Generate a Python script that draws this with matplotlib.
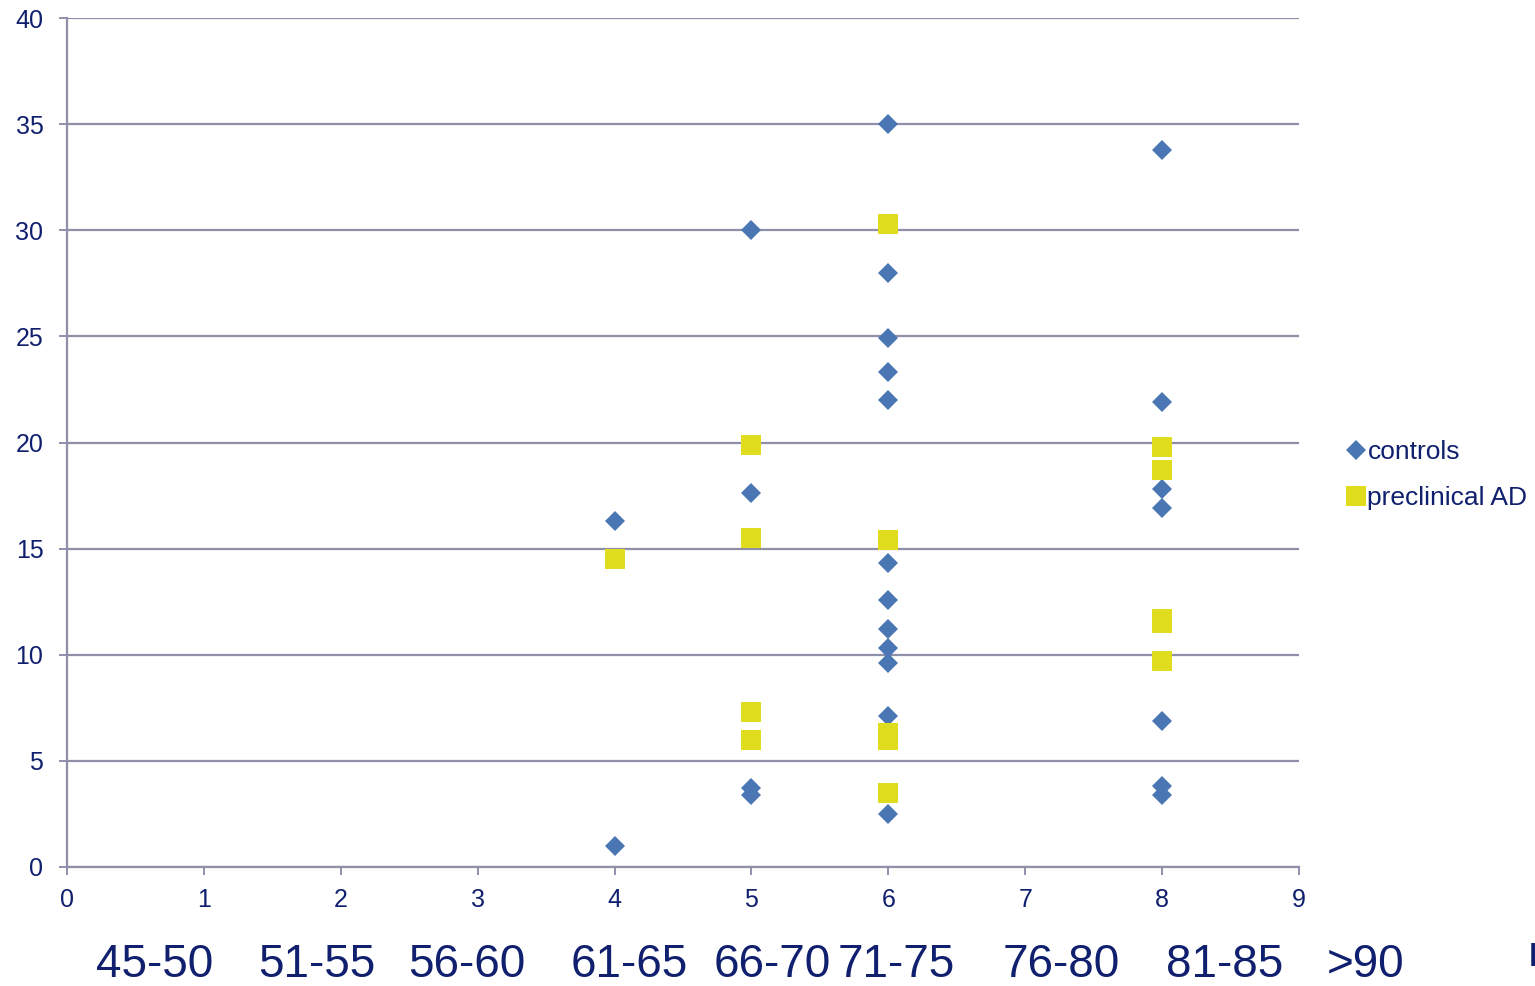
import matplotlib
matplotlib.use('Agg')
import matplotlib.pyplot as plt

# Valeurs par groupe d'âge (index 0..9 sur l'axe x)
controls_x = [4, 4,
              5, 5, 5, 5,
              6, 6, 6, 6, 6, 6, 6, 6, 6, 6, 6, 6,
              8, 8, 8, 8, 8, 8, 8]
controls_y = [16.3, 1.0,
              30.0, 17.6, 3.7, 3.4,
              35.0, 28.0, 24.9, 23.3, 22.0, 14.3, 12.6, 11.2, 10.3, 9.6, 7.1, 2.5,
              33.8, 21.9, 17.8, 16.9, 6.9, 3.8, 3.4]

preclin_x = [4,
             5, 5, 5, 5,
             6, 6, 6, 6, 6,
             8, 8, 8, 8, 8]
preclin_y = [14.5,
             19.9, 15.5, 7.3, 6.0,
             30.3, 15.4, 6.3, 6.0, 3.5,
             19.8, 18.7, 11.7, 11.5, 9.7]

age_labels = ['45-50', '51-55', '56-60', '61-65', '66-70', '71-75', '76-80', '81-85', '>90']
age_label_px = [96, 258, 408, 571, 714, 838, 1003, 1166, 1327]

W, H = 1535, 986
navy = '#10206E'
grid_col = '#8F8FAA'
blue = '#4A77B4'
yellow = '#E0DC1E'

plt.rcParams['font.family'] = ['Liberation Sans', 'DejaVu Sans']

fig = plt.figure(figsize=(W / 100, H / 100), dpi=100)
ax = fig.add_axes([67 / W, (H - 867) / H, (1299 - 67) / W, (867 - 18) / H])

ax.plot(controls_x, controls_y, linestyle='none', marker='D', markersize=10.2,
        color=blue, markeredgewidth=0, label='controls', zorder=3, clip_on=False)
ax.plot(preclin_x, preclin_y, linestyle='none', marker='s', markersize=14.4,
        color=yellow, markeredgewidth=0, label='preclinical AD', zorder=3, clip_on=False)

ax.set_xlim(0, 9)
ax.set_ylim(0, 40)
ax.set_xticks(range(0, 10))
ax.set_yticks(range(0, 45, 5))
ax.yaxis.grid(True, color=grid_col, linewidth=1.6)
ax.set_axisbelow(True)

for s in ['top', 'right']:
    ax.spines[s].set_visible(False)
for s in ['left', 'bottom']:
    ax.spines[s].set_color(grid_col)
    ax.spines[s].set_linewidth(1.6)

ax.tick_params(axis='x', direction='out', length=6, width=1.4, color=grid_col,
               labelsize=18, labelcolor=navy, pad=9)
ax.tick_params(axis='y', direction='out', length=6, width=1.4, color=grid_col,
               labelsize=18, labelcolor=navy, pad=11)

leg = fig.legend(loc='center left', bbox_to_anchor=(1345 / W, (H - 475) / H),
                 frameon=False, fontsize=19, handlelength=0.8, handletextpad=0.05,
                 labelspacing=0.82, borderpad=0, borderaxespad=0)
for t in leg.get_texts():
    t.set_color(navy)

# Tranches d'âge sous l'axe
for lab, px in zip(age_labels, age_label_px):
    fig.text(px / W, 9 / H, lab, ha='left', va='baseline', fontsize=33, color=navy)
fig.text(1529 / W, 20 / H, 'I', ha='left', va='baseline', fontsize=24,
         color=navy, fontweight='bold')

fig.savefig('out.png', dpi=100)
